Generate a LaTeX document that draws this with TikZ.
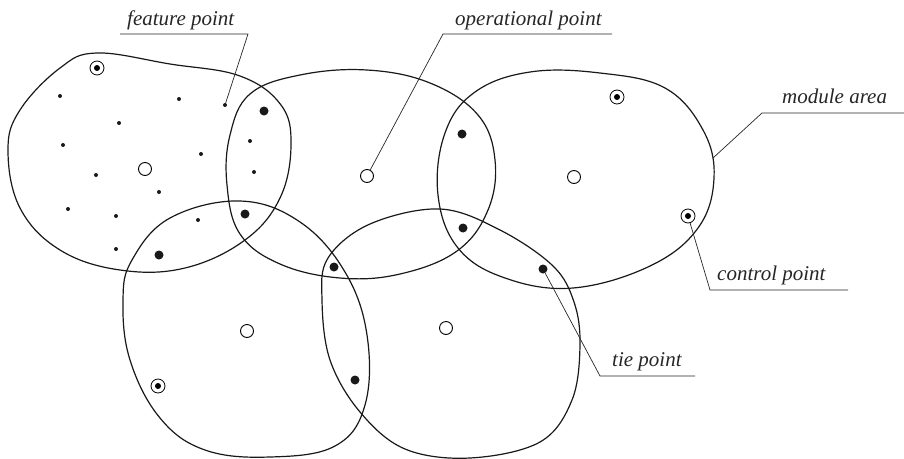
\documentclass[tikz,border=0pt]{standalone}
\usepackage{fontspec}
\newfontfamily\labelfont{Liberation Serif}
\begin{document}
\begin{tikzpicture}[x=1pt,y=-1pt,
  blob/.style={draw=black!90, line width=1.2pt},
  leader/.style={draw=black!85, line width=0.7pt},
  opn/.style={circle, draw, line width=0.9pt, fill=white, minimum size=13pt, inner sep=0pt},
  ctl/.style={circle, draw, line width=0.8pt, fill=white, minimum size=14pt, inner sep=0pt,
    path picture={\fill[black] (path picture bounding box.center) circle (3pt);}},
  tie/.style={circle, fill=black!90, minimum size=9pt, inner sep=0pt},
  feat/.style={circle, fill=black!90, minimum size=4pt, inner sep=0pt},
  lbl/.style={anchor=base west, inner sep=0pt, font=\labelfont\itshape\fontsize{21}{24}\selectfont, text=black!85}]
\useasboundingbox (0,0) rectangle (904,458);

% module areas
\draw[blob] plot[smooth cycle, tension=0.65] coordinates {
  (97,53) (170,64) (240,76) (281,105) (291,145) (280,198) (245,240) (185,268)
  (120,270) (60,250) (20,208) (8,150) (20,110) (60,68)};
\draw[blob] plot[smooth cycle, tension=0.65] coordinates {
  (230,135) (250,94) (300,75) (367,70) (430,83) (478,115) (495,160) (488,210)
  (457,251) (400,274) (340,278) (280,264) (240,234) (227,185)};
\draw[blob] plot[smooth cycle, tension=0.65] coordinates {
  (445,133) (475,92) (530,72) (600,73) (665,88) (703,130) (714,178) (698,228)
  (650,266) (573,288) (505,278) (458,248) (438,195)};
\draw[blob] plot[smooth cycle, tension=0.65] coordinates {
  (132,260) (170,218) (240,201) (300,222) (345,272) (367,335) (365,405) (335,446)
  (270,457) (205,450) (160,418) (130,360) (123,300)};
\draw[blob] plot[smooth cycle, tension=0.6] coordinates {
  (328,258) (370,224) (440,209) (500,230) (553,266) (574,302) (580,345)
  (572,400) (540,442) (470,458) (405,449) (360,412) (330,360) (322,300)};

% operational points
\node[opn] (o1) at (145,169) {};
\node[opn] (o2) at (367,176) {};
\node[opn] (o3) at (574,177) {};
\node[opn] (o4) at (247,331) {};
\node[opn] (o5) at (446,328) {};

% control points
\node[ctl] (c1) at (97,68) {};
\node[ctl] (c2) at (617,97) {};
\node[ctl] (c3) at (688,216) {};
\node[ctl] (c4) at (158,386) {};

% tie points
\node[tie] (t1) at (264,111) {};
\node[tie] (t2) at (245,214) {};
\node[tie] (t3) at (159,255) {};
\node[tie] (t4) at (462,134) {};
\node[tie] (t5) at (463,228) {};
\node[tie] (t6) at (334,267) {};
\node[tie] (t7) at (355,380) {};
\node[tie] (t8) at (543,269) {};

% feature points
\node[feat] (f1) at (60,96) {};
\node[feat] (f2) at (179,99) {};
\node[feat] (f3) at (225,105) {};
\node[feat] (f4) at (119,123) {};
\node[feat] (f5) at (63,145) {};
\node[feat] (f6) at (201,154) {};
\node[feat] (f7) at (96,175) {};
\node[feat] (f8) at (159,192) {};
\node[feat] (f9) at (250,141) {};
\node[feat] (f10) at (254,172) {};
\node[feat] (f11) at (68,209) {};
\node[feat] (f12) at (116,216) {};
\node[feat] (f13) at (198,220) {};
\node[feat] (f14) at (116,249) {};

% labels
\node[lbl] (lf) at (127,25) {feature point};
\node[lbl] (lo) at (455,25) {operational point};
\node[lbl] (lm) at (782,103) {module area};
\node[lbl] (lc) at (717,280) {control point};
\node[lbl] (lt) at (612,366) {tie point};

% underlines and leaders
\coordinate (uf1) at (120,34);  \coordinate (uf2) at (248,34);
\coordinate (uo1) at (443,34);  \coordinate (uo2) at (612,34);
\coordinate (um1) at (762,113); \coordinate (um2) at (904,113);
\coordinate (uc1) at (710,290); \coordinate (uc2) at (848,290);
\coordinate (ut1) at (600,376); \coordinate (ut2) at (695,376);
\coordinate (edgeC) at (713,158);

\draw[leader] (uf1) -- (uf2) -- (f3);
\draw[leader] (uo2) -- (uo1) -- (o2);
\draw[leader] (um2) -- (um1) -- (edgeC);
\draw[leader] (uc2) -- (uc1) -- (c3);
\draw[leader] (ut2) -- (ut1) -- (t8);
\end{tikzpicture}
\end{document}
